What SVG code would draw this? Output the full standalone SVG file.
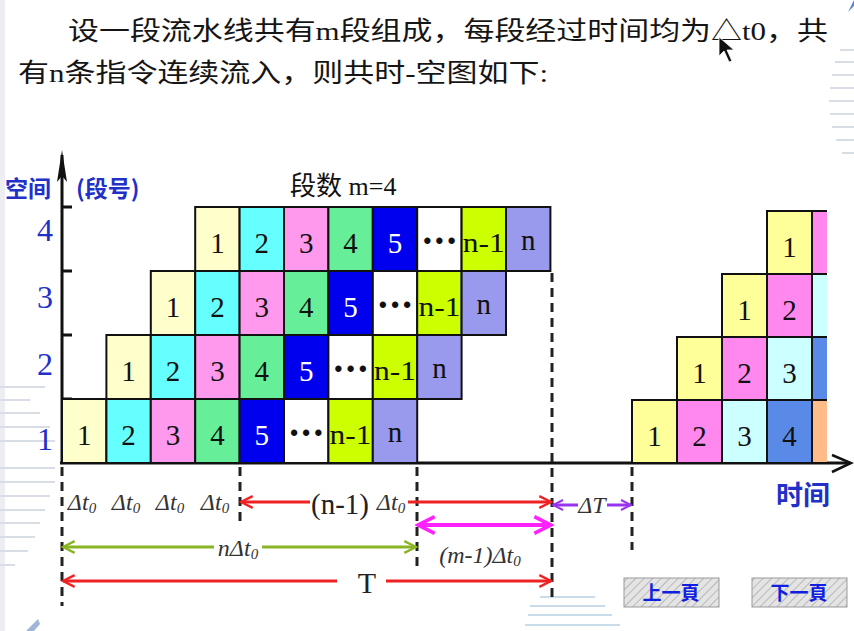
<svg xmlns="http://www.w3.org/2000/svg" width="854" height="631" viewBox="0 0 854 631">
<style>
.bg{fill:#fff}
.c{stroke:#111;stroke-width:2}
.num{font-family:"Liberation Serif",serif;font-size:29px;text-anchor:middle;fill:#111}
.wn{fill:#fff}
.nm1{font-family:"Liberation Serif",serif;font-size:27px;text-anchor:middle;fill:#111}
.dots{font-family:"Liberation Sans",sans-serif;font-size:22px;font-weight:bold;text-anchor:middle;fill:#111}
.ylab{font-family:"Liberation Serif",serif;font-size:32px;text-anchor:middle;fill:#2230c8}
.cjkb{font-family:"Noto Sans CJK SC",sans-serif;fill:#2230c8;font-weight:bold}
.hdr{font-family:"Liberation Serif","Noto Sans CJK SC",serif;font-size:26px;fill:#151515}
.it{font-family:"Liberation Serif",serif;font-style:italic;font-size:24px;fill:#333;text-anchor:middle}
.dash{stroke:#222;stroke-width:3;stroke-dasharray:9 6;fill:none}
.axis{stroke:#111;stroke-width:3;fill:none}
.red{stroke:#ee2222;stroke-width:3;fill:none}
.grn{stroke:#8ab424;stroke-width:3;fill:none}
.mag{stroke:#ff22ff;stroke-width:4;fill:none}
.pur{stroke:#9933ee;stroke-width:3;fill:none}
.btn{fill:url(#hatch);stroke:#999;stroke-width:1}
.btxt{font-family:"Noto Sans CJK SC",sans-serif;font-size:19px;font-weight:bold;fill:#1020e0;text-anchor:middle}
.deco{stroke:#d8dde6;stroke-width:2}
</style>
<defs>
<marker id="mr" viewBox="0 0 12 12" refX="11" refY="6" markerWidth="18" markerHeight="14" markerUnits="userSpaceOnUse" orient="auto-start-reverse"><path d="M1,1 L11,6 L1,11" fill="none" stroke="#ee2222" stroke-width="2"/></marker>
<marker id="mg" viewBox="0 0 12 12" refX="11" refY="6" markerWidth="18" markerHeight="14" markerUnits="userSpaceOnUse" orient="auto-start-reverse"><path d="M1,1 L11,6 L1,11" fill="none" stroke="#8ab424" stroke-width="2"/></marker>
<marker id="mm" viewBox="0 0 12 12" refX="11" refY="6" markerWidth="22" markerHeight="20" markerUnits="userSpaceOnUse" orient="auto-start-reverse"><path d="M1,1 L11,6 L1,11" fill="none" stroke="#ff22ff" stroke-width="2.2"/></marker>
<marker id="mp" viewBox="0 0 12 12" refX="11" refY="6" markerWidth="14" markerHeight="12" markerUnits="userSpaceOnUse" orient="auto-start-reverse"><path d="M1,1 L11,6 L1,11" fill="none" stroke="#9933ee" stroke-width="2"/></marker>
<pattern id="hatch" width="6" height="6" patternUnits="userSpaceOnUse" patternTransform="rotate(45)"><rect width="6" height="6" fill="#e4e4e4"/><line x1="0" y1="0" x2="0" y2="6" stroke="#aaa" stroke-width="1.5"/></pattern>
<clipPath id="clipR"><rect x="600" y="190" width="227" height="280"/></clipPath>
</defs>
<rect class="bg" width="854" height="631"/>
<g id="decoration">
<rect x="0" y="0" width="5" height="631" fill="#eceef2"/>
<line class="deco" x1="0" y1="387" x2="45" y2="387"/><line class="deco" x1="0" y1="400" x2="30" y2="400"/>
<line class="deco" x1="0" y1="413" x2="40" y2="413"/><line class="deco" x1="0" y1="427" x2="50" y2="427"/>
<line class="deco" x1="0" y1="441" x2="55" y2="441"/><line class="deco" x1="0" y1="468" x2="55" y2="468"/>
<line class="deco" x1="0" y1="482" x2="55" y2="482"/><line class="deco" x1="0" y1="496" x2="50" y2="496"/>
<line class="deco" x1="0" y1="510" x2="45" y2="510"/><line class="deco" x1="0" y1="523" x2="40" y2="523"/>
<line class="deco" x1="0" y1="537" x2="35" y2="537"/><line class="deco" x1="0" y1="551" x2="28" y2="551"/>
<line class="deco" x1="0" y1="565" x2="15" y2="565"/>
<line class="deco" x1="840" y1="50" x2="854" y2="50"/><line class="deco" x1="835" y1="62" x2="854" y2="62"/>
<line class="deco" x1="832" y1="75" x2="854" y2="75"/><line class="deco" x1="830" y1="88" x2="854" y2="88"/>
<line class="deco" x1="829" y1="101" x2="854" y2="101"/><line class="deco" x1="830" y1="114" x2="854" y2="114"/>
<line class="deco" x1="832" y1="127" x2="854" y2="127"/><line class="deco" x1="836" y1="140" x2="854" y2="140"/>
<line class="deco" x1="842" y1="153" x2="854" y2="153"/>
<line x1="540" y1="597" x2="595" y2="597" stroke="#c9dcec" stroke-width="2"/><line x1="530" y1="606" x2="605" y2="606" stroke="#c9dcec" stroke-width="2"/>
<line x1="528" y1="615" x2="612" y2="615" stroke="#c9dcec" stroke-width="2"/><line x1="525" y1="625" x2="620" y2="625" stroke="#c9dcec" stroke-width="2"/>
<path d="M848,12 L854,0 L854,6 Z" fill="#5f86c8"/>
<path d="M26,631 L38,619 L40,624 L34,631 Z" fill="#9fb6d6"/>
</g>
<g id="header">
<text class="hdr" x="68" y="40" textLength="760" lengthAdjust="spacingAndGlyphs">设一段流水线共有m段组成，每段经过时间均为△t0，共</text>
<text class="hdr" x="18" y="82" textLength="530" lengthAdjust="spacingAndGlyphs">有n条指令连续流入，则共时-空图如下:</text>
<path d="M719,37 L719,56 L724,51 L729,62 L732,61 L727,50 L734,50 Z" fill="#111" stroke="#fff" stroke-width="0.8"/>
</g>
<g id="axes">
<line class="axis" x1="62" y1="155" x2="62" y2="463"/>
<path d="M62,150 L57,182 L62,176 L67,182 Z" fill="#111"/>
<line class="axis" x1="60" y1="463" x2="850" y2="463"/>
<polyline points="832,455 851,463 832,472" fill="none" stroke="#111" stroke-width="2.5"/>
<line class="axis" x1="62" y1="207" x2="72" y2="207"/>
<line class="axis" x1="62" y1="271" x2="72" y2="271"/>
<line class="axis" x1="62" y1="335" x2="72" y2="335"/>
<line class="axis" x1="62" y1="399" x2="72" y2="399"/>
<text class="cjkb" x="5" y="197" font-size="23">空间</text>
<text class="cjkb" x="76" y="197" font-size="23">(段号)</text>
<text class="ylab" x="45" y="241">4</text>
<text class="ylab" x="45" y="308">3</text>
<text class="ylab" x="45" y="375">2</text>
<text class="ylab" x="45" y="450">1</text>
<text class="cjkb" x="803" y="505" font-size="27" text-anchor="middle">时间</text>
<text x="290" y="195" font-family="Liberation Serif,Noto Sans CJK SC,serif" font-size="26" fill="#111">段数 m=4</text>
</g>
<g id="row1">
<g id="r1c1"><rect class="c" x="62" y="399" width="44.4" height="64" fill="#ffffcc"/><text class="num" x="84.2" y="445">1</text></g>
<g id="r1c2"><rect class="c" x="106.4" y="399" width="44.4" height="64" fill="#66ffff"/><text class="num" x="128.6" y="445">2</text></g>
<g id="r1c3"><rect class="c" x="150.8" y="399" width="44.4" height="64" fill="#ff99ee"/><text class="num" x="173" y="445">3</text></g>
<g id="r1c4"><rect class="c" x="195.2" y="399" width="44.4" height="64" fill="#66ee99"/><text class="num" x="217.4" y="445">4</text></g>
<g id="r1c5"><rect class="c" x="239.6" y="399" width="44.4" height="64" fill="#0000ee"/><text class="num wn" x="261.8" y="445">5</text></g>
<g id="r1c6"><rect class="c" x="284" y="399" width="44.4" height="64" fill="#ffffff"/><text class="dots" x="306.2" y="440" textLength="32">•••</text></g>
<g id="r1c7"><rect class="c" x="328.4" y="399" width="44.4" height="64" fill="#ccff00"/><text class="nm1" x="350.6" y="444" textLength="42" lengthAdjust="spacingAndGlyphs">n-1</text></g>
<g id="r1c8"><rect class="c" x="372.8" y="399" width="44.4" height="64" fill="#9999ee"/><text class="num" x="395" y="442">n</text></g>
</g>
<g id="row2">
<g id="r2c1"><rect class="c" x="106.4" y="335" width="44.4" height="64" fill="#ffffcc"/><text class="num" x="128.6" y="381">1</text></g>
<g id="r2c2"><rect class="c" x="150.8" y="335" width="44.4" height="64" fill="#66ffff"/><text class="num" x="173" y="381">2</text></g>
<g id="r2c3"><rect class="c" x="195.2" y="335" width="44.4" height="64" fill="#ff99ee"/><text class="num" x="217.4" y="381">3</text></g>
<g id="r2c4"><rect class="c" x="239.6" y="335" width="44.4" height="64" fill="#66ee99"/><text class="num" x="261.8" y="381">4</text></g>
<g id="r2c5"><rect class="c" x="284" y="335" width="44.4" height="64" fill="#0000ee"/><text class="num wn" x="306.2" y="381">5</text></g>
<g id="r2c6"><rect class="c" x="328.4" y="335" width="44.4" height="64" fill="#ffffff"/><text class="dots" x="350.6" y="376" textLength="32">•••</text></g>
<g id="r2c7"><rect class="c" x="372.8" y="335" width="44.4" height="64" fill="#ccff00"/><text class="nm1" x="395" y="380" textLength="42" lengthAdjust="spacingAndGlyphs">n-1</text></g>
<g id="r2c8"><rect class="c" x="417.2" y="335" width="44.4" height="64" fill="#9999ee"/><text class="num" x="439.4" y="378">n</text></g>
</g>
<g id="row3">
<g id="r3c1"><rect class="c" x="150.8" y="271" width="44.4" height="64" fill="#ffffcc"/><text class="num" x="173" y="317">1</text></g>
<g id="r3c2"><rect class="c" x="195.2" y="271" width="44.4" height="64" fill="#66ffff"/><text class="num" x="217.4" y="317">2</text></g>
<g id="r3c3"><rect class="c" x="239.6" y="271" width="44.4" height="64" fill="#ff99ee"/><text class="num" x="261.8" y="317">3</text></g>
<g id="r3c4"><rect class="c" x="284" y="271" width="44.4" height="64" fill="#66ee99"/><text class="num" x="306.2" y="317">4</text></g>
<g id="r3c5"><rect class="c" x="328.4" y="271" width="44.4" height="64" fill="#0000ee"/><text class="num wn" x="350.6" y="317">5</text></g>
<g id="r3c6"><rect class="c" x="372.8" y="271" width="44.4" height="64" fill="#ffffff"/><text class="dots" x="395" y="312" textLength="32">•••</text></g>
<g id="r3c7"><rect class="c" x="417.2" y="271" width="44.4" height="64" fill="#ccff00"/><text class="nm1" x="439.4" y="316" textLength="42" lengthAdjust="spacingAndGlyphs">n-1</text></g>
<g id="r3c8"><rect class="c" x="461.6" y="271" width="44.4" height="64" fill="#9999ee"/><text class="num" x="483.8" y="314">n</text></g>
</g>
<g id="row4">
<g id="r4c1"><rect class="c" x="195.2" y="207" width="44.4" height="64" fill="#ffffcc"/><text class="num" x="217.4" y="253">1</text></g>
<g id="r4c2"><rect class="c" x="239.6" y="207" width="44.4" height="64" fill="#66ffff"/><text class="num" x="261.8" y="253">2</text></g>
<g id="r4c3"><rect class="c" x="284" y="207" width="44.4" height="64" fill="#ff99ee"/><text class="num" x="306.2" y="253">3</text></g>
<g id="r4c4"><rect class="c" x="328.4" y="207" width="44.4" height="64" fill="#66ee99"/><text class="num" x="350.6" y="253">4</text></g>
<g id="r4c5"><rect class="c" x="372.8" y="207" width="44.4" height="64" fill="#0000ee"/><text class="num wn" x="395" y="253">5</text></g>
<g id="r4c6"><rect class="c" x="417.2" y="207" width="44.4" height="64" fill="#ffffff"/><text class="dots" x="439.4" y="248" textLength="32">•••</text></g>
<g id="r4c7"><rect class="c" x="461.6" y="207" width="44.4" height="64" fill="#ccff00"/><text class="nm1" x="483.8" y="252" textLength="42" lengthAdjust="spacingAndGlyphs">n-1</text></g>
<g id="r4c8"><rect class="c" x="506" y="207" width="44.4" height="64" fill="#9999ee"/><text class="num" x="528.2" y="250">n</text></g>
</g>
<g id="rightPipe" clip-path="url(#clipR)">
<g id="q1a"><rect class="c" x="632" y="400" width="45" height="63" fill="#ffff99"/><text class="num" x="654.5" y="446">1</text></g>
<g id="q1b"><rect class="c" x="677" y="400" width="45" height="63" fill="#ff88ee"/><text class="num" x="699.5" y="446">2</text></g>
<g id="q1c"><rect class="c" x="722" y="400" width="45" height="63" fill="#ccffff"/><text class="num" x="744.5" y="446">3</text></g>
<g id="q1d"><rect class="c" x="767" y="400" width="45" height="63" fill="#5a8ae8"/><text class="num" x="789.5" y="446">4</text></g>
<g id="q1e"><rect class="c" x="812" y="400" width="45" height="63" fill="#ffbb88"/></g>
<g id="q2a"><rect class="c" x="677" y="337" width="45" height="63" fill="#ffff99"/><text class="num" x="699.5" y="383">1</text></g>
<g id="q2b"><rect class="c" x="722" y="337" width="45" height="63" fill="#ff88ee"/><text class="num" x="744.5" y="383">2</text></g>
<g id="q2c"><rect class="c" x="767" y="337" width="45" height="63" fill="#ccffff"/><text class="num" x="789.5" y="383">3</text></g>
<g id="q2d"><rect class="c" x="812" y="337" width="45" height="63" fill="#5a8ae8"/></g>
<g id="q3a"><rect class="c" x="722" y="274" width="45" height="63" fill="#ffff99"/><text class="num" x="744.5" y="320">1</text></g>
<g id="q3b"><rect class="c" x="767" y="274" width="45" height="63" fill="#ff88ee"/><text class="num" x="789.5" y="320">2</text></g>
<g id="q3c"><rect class="c" x="812" y="274" width="45" height="63" fill="#ccffff"/></g>
<g id="q4a"><rect class="c" x="767" y="211" width="45" height="63" fill="#ffff99"/><text class="num" x="789.5" y="257">1</text></g>
<g id="q4b"><rect class="c" x="812" y="211" width="45" height="63" fill="#ff88ee"/></g>
</g>
<g id="connectors">
<line class="dash" x1="62" y1="467" x2="62" y2="606"/>
<line class="dash" x1="240" y1="467" x2="240" y2="522"/>
<line class="dash" x1="417" y1="467" x2="417" y2="572"/>
<line class="dash" x1="552" y1="273" x2="552" y2="598"/>
<line class="dash" x1="632" y1="467" x2="632" y2="550"/>
<line class="red" x1="241" y1="502" x2="310" y2="502" marker-start="url(#mr)"/>
<line class="red" x1="408" y1="502" x2="551" y2="502" marker-end="url(#mr)"/>
<line class="pur" x1="553" y1="505" x2="578" y2="505" marker-start="url(#mp)"/>
<line class="pur" x1="607" y1="505" x2="631" y2="505" marker-end="url(#mp)"/>
<line class="mag" x1="418" y1="525" x2="551" y2="525" marker-start="url(#mm)" marker-end="url(#mm)"/>
<line class="grn" x1="63" y1="547" x2="214" y2="547" marker-start="url(#mg)"/>
<line class="grn" x1="262" y1="547" x2="416" y2="547" marker-end="url(#mg)"/>
<line class="red" x1="63" y1="581" x2="337" y2="581" marker-start="url(#mr)"/>
<line class="red" x1="386" y1="581" x2="551" y2="581" marker-end="url(#mr)"/>
</g>
<g id="labels">
<text class="it" x="82" y="510">Δt<tspan font-size="15" dy="3">0</tspan></text>
<text class="it" x="126" y="510">Δt<tspan font-size="15" dy="3">0</tspan></text>
<text class="it" x="170" y="510">Δt<tspan font-size="15" dy="3">0</tspan></text>
<text class="it" x="215" y="510">Δt<tspan font-size="15" dy="3">0</tspan></text>
<text x="340" y="514" font-family="Liberation Serif,serif" font-size="29" fill="#222" text-anchor="middle">(n-1)</text>
<text class="it" x="391" y="510">Δt<tspan font-size="15" dy="3">0</tspan></text>
<text class="it" x="592" y="513">ΔT</text>
<text class="it" x="480" y="563">(m-1)Δt<tspan font-size="15" dy="3">0</tspan></text>
<text class="it" x="238" y="556">nΔt<tspan font-size="15" dy="3">0</tspan></text>
<text x="367" y="593" font-family="Liberation Serif,serif" font-size="30" fill="#222" text-anchor="middle">T</text>
</g>
<g id="btnPrev"><rect class="btn" x="624" y="578" width="95" height="29"/><text class="btxt" x="671" y="600">上一頁</text></g>
<g id="btnNext"><rect class="btn" x="752" y="578" width="95" height="29"/><text class="btxt" x="799" y="600">下一頁</text></g>
</svg>
